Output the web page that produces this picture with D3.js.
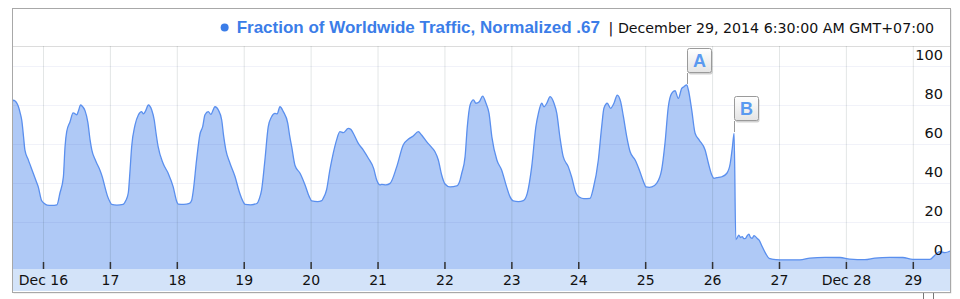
<!DOCTYPE html>
<html>
<head>
<meta charset="utf-8">
<script src="https://cdn.jsdelivr.net/npm/d3@7"></script>
<style>
  body { margin: 0; background: #fff; }
  svg { display: block; }
</style>
</head>
<body>
<div id="chart"></div>
<script>

// hours since Dec 16 2014 00:00, value
var traffic = [
    [-11.1, 81], [-10.6, 82.5], [-10.0, 82], [-9.4, 81], [-8.9, 79.5], [-8.2, 76], [-7.6, 72], [-7.0, 64], [-6.5, 57], [-5.3, 52], [-4.4, 48.5], [-3.5, 45], [-2.6, 41.5], [-1.7, 38], [-0.5, 31],
    [0.5, 29.5], [1.5, 28.7], [3.0, 28.5], [5.0, 28.8], [6.1, 35], [7.3, 43], [7.9, 58.6], [8.5, 66.3], [9.7, 71.4], [10.8, 76], [11.5, 75.5], [12.1, 75], [12.6, 76.5], [13.5, 80], [14.3, 79], [15.1, 77], [16.1, 71], [16.9, 62], [17.5, 57], [18.7, 52], [19.5, 49.5], [20.4, 46.7], [21.3, 43], [22.2, 38], [23.2, 33],
    [24.0, 30.4], [24.6, 29], [26.5, 28.7], [28.7, 29], [29.7, 31], [30.6, 35], [31.2, 46], [31.8, 58.6], [33.0, 69.7], [34.2, 74.9], [35.4, 76.6], [36.0, 75.4], [36.8, 77], [37.8, 80], [39.0, 77.4], [39.9, 72.3], [40.6, 65], [41.3, 58.6], [43.1, 50], [44.9, 45], [46.7, 38], [48.0, 30.4],
    [48.5, 29.2], [50.5, 29], [52.5, 29.5], [53.3, 31], [53.9, 36], [55.1, 52], [56.3, 65], [57.3, 69], [58.1, 75], [59.3, 76.6], [60.2, 75.2], [61.7, 79.1], [62.9, 77.4], [64.1, 72.3], [64.8, 64], [65.6, 56.9], [67.1, 50], [68.9, 43.2], [70.4, 35.5], [71.8, 30.4],
    [72.5, 29], [74.5, 28.8], [76.7, 29.5], [77.6, 32], [78.4, 36.4], [79.6, 51.8], [80.8, 68.9], [82.0, 74], [83.2, 75.7], [84.0, 75.5], [85.0, 79.1], [86.2, 76.6], [87.8, 70.6], [88.5, 64], [89.2, 58.6], [90.4, 49], [92.2, 45], [94.0, 39], [95.5, 33],
    [96.4, 30.8], [98.5, 30.5], [100.0, 31], [100.5, 32.1], [101.7, 36.4], [102.9, 46.7], [104.1, 55.2], [105.3, 62], [106.5, 66.3], [107.7, 65.8], [109.5, 68], [110.4, 67.5], [111.3, 65.5], [113.1, 60.3], [114.9, 56.9], [116.7, 52.7], [118.6, 47.5], [119.7, 41.5], [120.9, 39],
    [121.5, 39.3], [123.0, 39], [124.5, 39.8], [126.9, 48.4], [129.2, 59.5], [131.0, 62.4], [132.8, 64.1], [134.6, 66.3], [135.8, 64.6], [137.6, 61.2], [139.4, 58.3], [140.6, 56], [141.8, 51.8], [143.0, 44.1], [144.2, 39.5], [146.0, 38], [148.4, 38.5], [149.6, 41.5],
    [150.2, 45], [151.4, 53.5], [152.2, 68.9], [153.2, 80], [154.4, 82.6], [155.3, 80.9], [156.5, 81.7], [157.7, 84.6], [158.9, 80.9], [160.0, 75.7], [161.0, 63.7], [162.8, 51.8], [164.5, 46.7], [166.3, 38], [167.5, 33], [168.7, 30.8], [170.5, 30.5], [172.3, 31],
    [173.7, 34.7], [175.3, 48.4], [176.8, 68.9], [177.7, 75.7], [178.9, 80.9], [179.7, 79.1], [180.7, 80.9], [181.9, 84.3], [183.3, 80.9], [184.3, 75.7], [185.4, 63.7], [186.6, 53.5], [188.4, 48.4], [189.6, 43.2], [191.2, 34.7], [192.5, 32.7],
    [194.0, 32], [196.2, 32.1], [197.4, 37.3], [199.2, 51.8], [200.4, 68.9], [201.2, 78.3], [202.4, 80.9], [203.6, 78.3], [204.8, 80.9], [206.0, 85.1], [207.2, 81.7], [208.2, 74], [209.4, 63.7], [210.6, 56], [212.4, 51.8], [213.9, 46.7], [215.4, 40.7], [216.3, 38],
    [217.5, 37.8], [218.4, 38], [220.1, 39.8], [221.9, 46.7], [223.1, 60.3], [224.3, 79.1], [225.5, 86], [226.7, 87.3], [227.9, 83.4], [229.1, 88.5], [229.9, 89.4], [230.9, 90.3], [231.5, 87.7], [232.7, 77.4], [233.9, 65.5], [235.4, 62], [237.5, 56.9], [238.7, 50], [239.9, 44.1], [240.7, 42.4],
    [241.7, 42.7], [243.5, 43.2], [245.3, 45], [246.5, 50], [247.3, 58.6], [247.9, 65.5], [248.5, 11], [248.9, 11.6], [249.6, 13.3], [250.2, 12], [250.8, 12.5], [251.4, 11.5], [252.0, 11.6], [252.6, 13], [253.2, 13.8], [253.8, 12], [254.4, 11.6], [255.0, 13], [255.6, 12.5], [256.2, 11.5], [256.8, 10.8], [258.0, 7.3], [259.2, 3.9], [260.4, 1.4], [261.4, 1],
    [264.4, 0.6], [271.5, 0.6], [275.1, 1.5], [280.5, 1.9], [285.9, 1.8], [289.4, 1.0], [294.8, 0.7], [298.4, 1.5], [303.7, 1.9], [308.4, 1.8], [312.0, 0.8], [318.1, 0.8], [319.9, 3], [321.7, 4.8], [323.5, 4.3], [325.7, 5.3]
];

// day ticks (day of December) and their labels
var tickDays = [16, 17, 18, 19, 20, 21, 22, 23, 24, 25, 26, 27, 28, 29];
var tickLabels = ["Dec 16", "17", "18", "19", "20", "21", "22", "23", "24", "25", "26", "27", "Dec 28", "29"];
var yTicks = [0, 20, 40, 60, 80, 100];

// flags: label, hours since Dec 16, value
var flags = [["A", 230.9, 90.3], ["B", 247.9, 65.5]];

var seriesName = "Fraction of Worldwide Traffic, Normalized .67";
var stamp = "| December 29, 2014 6:30:00 AM GMT+07:00";

var width = 960,
    height = 299;

var frame = {left: 12.5, right: 950.5, top: 8.5, bottom: 292.5};
var plot = {left: 12, right: 950, top: 46, bottom: 269};

var t0 = Date.UTC(2014, 11, 16);
function toDate(h) { return new Date(t0 + h * 3600e3); }

var x = d3.scaleUtc()
    .domain([toDate(-11.12), toDate(325.34)])
    .range([plot.left, plot.right]);

var y = d3.scaleLinear()
    .domain([0, 100])
    .range([261, 66]);

var svg = d3.select("#chart").append("svg")
    .attr("width", width)
    .attr("height", height);

var defs = svg.append("defs");
defs.append("clipPath").attr("id", "clip")
    .append("rect")
    .attr("x", plot.left).attr("y", plot.top)
    .attr("width", plot.right - plot.left).attr("height", plot.bottom - plot.top);

var grad = defs.append("linearGradient").attr("id", "flagGrad")
    .attr("x1", 0).attr("y1", 0).attr("x2", 0).attr("y2", 1);
grad.append("stop").attr("offset", "0%").attr("stop-color", "#ffffff");
grad.append("stop").attr("offset", "100%").attr("stop-color", "#e4e4e4");

// frame background + shadow
svg.append("rect")
    .attr("x", frame.left + 1).attr("y", frame.top + 1)
    .attr("width", frame.right - frame.left).attr("height", frame.bottom - frame.top)
    .attr("fill", "#e2e2e2");
svg.append("rect")
    .attr("x", frame.left).attr("y", frame.top)
    .attr("width", frame.right - frame.left).attr("height", frame.bottom - frame.top)
    .attr("fill", "#fff");

// legend separator
svg.append("line")
    .attr("x1", frame.left).attr("x2", frame.right)
    .attr("y1", plot.top + 0.5).attr("y2", plot.top + 0.5)
    .attr("stroke", "#dcdcdc");

// axis band
svg.append("rect")
    .attr("x", plot.left).attr("y", plot.bottom)
    .attr("width", plot.right - plot.left).attr("height", 22)
    .attr("fill", "#d3e3f9");

// area + line
var data = traffic.map(function(d) { return {date: toDate(d[0]), value: d[1]}; });

var area = d3.area()
    .curve(d3.curveMonotoneX)
    .x(function(d) { return x(d.date); })
    .y0(plot.bottom)
    .y1(function(d) { return y(d.value); });

var line = d3.line()
    .curve(d3.curveMonotoneX)
    .x(function(d) { return x(d.date); })
    .y(function(d) { return y(d.value); });

var chart = svg.append("g").attr("clip-path", "url(#clip)");

chart.append("path")
    .datum(data)
    .attr("d", area)
    .attr("fill", "#afc9f6");

// grid lines
chart.selectAll(".hgrid")
    .data(yTicks.slice(1))
    .enter().append("line")
    .attr("class", "hgrid")
    .attr("x1", plot.left).attr("x2", plot.right)
    .attr("y1", function(d) { return Math.round(y(d)) + 0.5; })
    .attr("y2", function(d) { return Math.round(y(d)) + 0.5; })
    .attr("stroke", "rgba(60,70,170,0.07)");

var tickDates = tickDays.map(function(d) { return new Date(Date.UTC(2014, 11, d)); });

chart.append("g")
    .attr("transform", "translate(0," + plot.bottom + ")")
    .call(d3.axisBottom(x).tickValues(tickDates).tickSize(-(plot.bottom - plot.top)).tickFormat(""))
    .call(function(g) {
        g.select(".domain").remove();
        g.selectAll("line").attr("stroke", "rgba(40,60,60,0.13)");
    });

chart.append("path")
    .datum(data)
    .attr("d", line)
    .attr("fill", "none")
    .attr("stroke", "#5a8fee")
    .attr("stroke-width", 1.3);

// left edge line
svg.append("line")
    .attr("x1", plot.left + 0.5).attr("x2", plot.left + 0.5)
    .attr("y1", plot.top).attr("y2", plot.bottom + 22)
    .attr("stroke", "#8a8a8a");

// x axis ticks + labels
svg.append("g")
    .attr("transform", "translate(0," + (plot.bottom - 7) + ")")
    .call(d3.axisBottom(x).tickValues(tickDates).tickSize(7).tickPadding(6)
        .tickFormat(function(d, i) { return tickLabels[i]; }))
    .call(function(g) {
        g.select(".domain").remove();
        g.selectAll("line").attr("stroke", "#333").attr("stroke-width", 1.5);
        g.selectAll("text")
            .attr("fill", "#111")
            .style("font-family", "'DejaVu Sans', Verdana, sans-serif")
            .style("font-size", "14px");
    });

// y axis labels
svg.append("g")
    .attr("transform", "translate(943,0)")
    .call(d3.axisLeft(y).tickValues(yTicks).tickSize(0).tickPadding(0))
    .call(function(g) {
        g.select(".domain").remove();
        g.selectAll("text")
            .attr("dy", null)
            .attr("y", -7)
            .attr("fill", "#111")
            .style("font-family", "'DejaVu Sans', Verdana, sans-serif")
            .style("font-size", "14.5px");
    });

// flags
var flag = svg.selectAll(".flag")
    .data(flags)
    .enter().append("g")
    .attr("class", "flag")
    .attr("transform", function(d) {
        return "translate(" + Math.round(x(toDate(d[1]))) + "," + Math.round(y(d[2])) + ")";
    });

flag.append("line")
    .attr("x1", 0.5).attr("x2", 0.5)
    .attr("y1", -1).attr("y2", -12)
    .attr("stroke", "#999");

flag.append("rect")
    .attr("x", 1.5).attr("y", -34.5)
    .attr("width", 24).attr("height", 24).attr("rx", 2)
    .attr("fill", "rgba(0,0,0,0.18)");

flag.append("rect")
    .attr("x", 0.5).attr("y", -36.5)
    .attr("width", 24).attr("height", 24).attr("rx", 2)
    .attr("fill", "url(#flagGrad)")
    .attr("stroke", "#9a9a9a");

flag.append("text")
    .attr("x", 12.5).attr("y", -18)
    .attr("text-anchor", "middle")
    .attr("fill", "#5a9af0")
    .style("font-family", "'Liberation Sans', Arial, sans-serif")
    .style("font-weight", "bold")
    .style("font-size", "18px")
    .text(function(d) { return d[0]; });

// legend
var title = svg.append("text")
    .attr("x", 600).attr("y", 32.5)
    .attr("text-anchor", "end")
    .attr("fill", "#3b7de8")
    .style("font-family", "'Liberation Sans', Arial, sans-serif")
    .style("font-weight", "bold")
    .style("font-size", "17px")
    .text(seriesName);

var tw = title.node().getComputedTextLength();
svg.append("circle")
    .attr("cx", 600 - tw - 12).attr("cy", 27.5)
    .attr("r", 4)
    .attr("fill", "#3b7de8");

svg.append("text")
    .attr("x", 934).attr("y", 32.5)
    .attr("text-anchor", "end")
    .attr("fill", "#111")
    .style("font-family", "'DejaVu Sans', Verdana, sans-serif")
    .style("font-size", "14.2px")
    .text(stamp);

// frame border
svg.append("rect")
    .attr("x", frame.left).attr("y", frame.top)
    .attr("width", frame.right - frame.left).attr("height", frame.bottom - frame.top)
    .attr("fill", "none")
    .attr("stroke", "#a8a8a8");

// slider handle stub below the frame
svg.selectAll(".handle")
    .data([923.5, 933.5])
    .enter().append("line")
    .attr("x1", function(d) { return d; }).attr("x2", function(d) { return d; })
    .attr("y1", 293).attr("y2", 299)
    .attr("stroke", "#777");

</script>
</body>
</html>
